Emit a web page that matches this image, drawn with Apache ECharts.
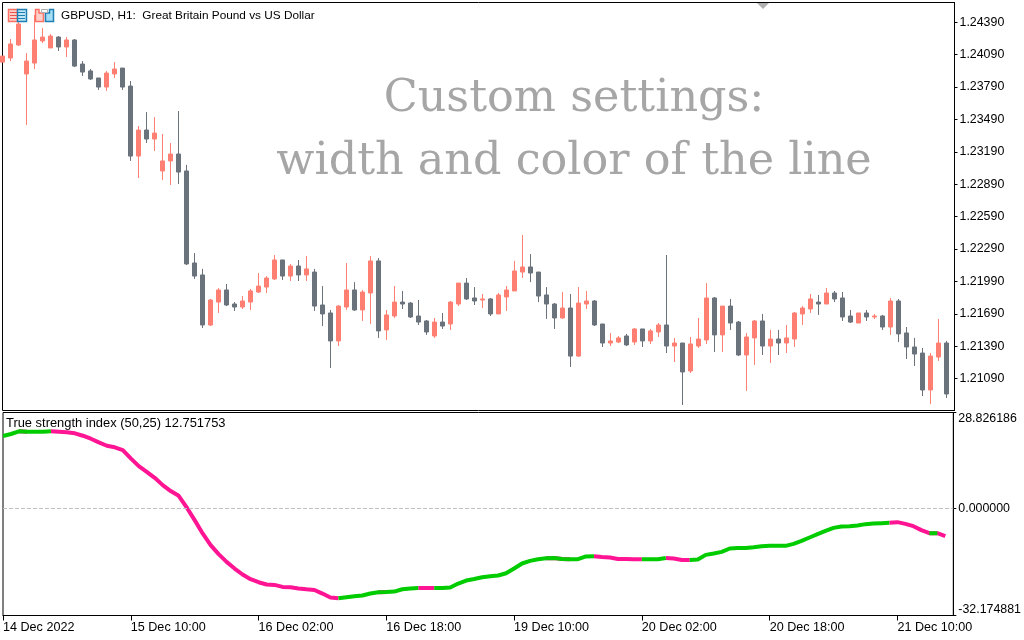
<!DOCTYPE html>
<html>
<head>
<meta charset="utf-8">
<title>GBPUSD H1</title>
<style>
  html, body { margin: 0; padding: 0; background: #fff; }
  #chart { width: 1024px; height: 640px; }
</style>
<script src="https://cdn.jsdelivr.net/npm/echarts@6/dist/echarts.min.js"></script>
</head>
<body>
<div id="chart"></div>
<script>
// GBPUSD H1 prices, one value per candle
var opens = [1.24021,1.24059,1.24180,1.23911,1.24012,1.24217,1.24152,1.24253,1.24161,1.24226,
  1.24003,1.23939,1.23874,1.23790,1.23911,1.23966,1.23799,1.23151,1.23392,1.23309,
  1.23013,1.23106,1.23170,1.23013,1.22161,1.22050,1.21587,1.21799,1.21911,1.21781,
  1.21753,1.21799,1.21892,1.21938,1.22013,1.22189,1.22040,1.22133,1.22050,1.22077,
  1.21772,1.21698,1.21439,1.21753,1.21911,1.21726,1.21883,1.22180,1.21541,1.21670,
  1.21799,1.21790,1.21670,1.21624,1.21485,1.21614,1.21596,1.21781,1.21975,1.21837,
  1.21818,1.21828,1.21689,1.21846,1.21902,1.22077,1.22124,1.22077,1.21865,1.21781,
  1.21652,1.21744,1.21299,1.21781,1.21809,1.21596,1.21420,1.21429,1.21485,1.21429,
  1.21550,1.21439,1.21522,1.21587,1.21392,1.21420,1.21161,1.21392,1.21448,1.21837,
  1.21495,1.21762,1.21614,1.21309,1.21467,1.21624,1.21392,1.21457,1.21420,1.21457,
  1.21689,1.21735,1.21799,1.21781,1.21883,1.21837,1.21670,1.21605,1.21698,1.21661,
  1.21670,1.21568,1.21809,1.21513,1.21383,1.21327,1.20985,1.21290,1.21420];
var closes = [1.24077,1.24189,1.24374,1.24031,1.24226,1.24253,1.24262,1.24161,1.24226,1.23984,
  1.23929,1.23865,1.23790,1.23920,1.23957,1.23790,1.23151,1.23392,1.23309,1.23364,
  1.23106,1.23170,1.23003,1.22152,1.22040,1.21587,1.21818,1.21911,1.21772,1.21753,
  1.21809,1.21902,1.21947,1.22022,1.22189,1.22040,1.22133,1.22050,1.22106,1.21762,
  1.21689,1.21439,1.21762,1.21911,1.21726,1.21892,1.22180,1.21532,1.21680,1.21799,
  1.21781,1.21661,1.21614,1.21522,1.21614,1.21577,1.21799,1.21975,1.21828,1.21809,
  1.21828,1.21689,1.21865,1.21911,1.22087,1.22124,1.22068,1.21855,1.21781,1.21652,
  1.21744,1.21299,1.21790,1.21809,1.21587,1.21420,1.21439,1.21467,1.21402,1.21550,
  1.21439,1.21532,1.21587,1.21392,1.21420,1.21152,1.21411,1.21457,1.21837,1.21495,
  1.21762,1.21605,1.21309,1.21476,1.21624,1.21392,1.21457,1.21420,1.21467,1.21698,
  1.21744,1.21828,1.21781,1.21883,1.21828,1.21661,1.21614,1.21698,1.21661,1.21670,
  1.21568,1.21809,1.21504,1.21383,1.21318,1.20985,1.21299,1.21420,1.20948];
var lows = [1.24021,1.24031,1.24170,1.23439,1.23957,1.24198,1.24152,1.24124,1.24068,1.23975,
  1.23892,1.23855,1.23763,1.23754,1.23874,1.23763,1.23106,1.22948,1.23272,1.23198,
  1.22929,1.22883,1.22892,1.22143,1.22013,1.21559,1.21577,1.21698,1.21762,1.21717,
  1.21735,1.21726,1.21883,1.21883,1.22003,1.22003,1.21994,1.21994,1.21994,1.21717,
  1.21577,1.21189,1.21392,1.21726,1.21717,1.21624,1.21596,1.21467,1.21448,1.21652,
  1.21735,1.21652,1.21587,1.21495,1.21467,1.21550,1.21541,1.21762,1.21818,1.21772,
  1.21744,1.21670,1.21689,1.21717,1.21902,1.22022,1.21984,1.21799,1.21643,1.21550,
  1.21643,1.21198,1.21290,1.21735,1.21577,1.21383,1.21392,1.21420,1.21392,1.21402,
  1.21383,1.21411,1.21476,1.21327,1.21244,1.20846,1.21142,1.21374,1.21411,1.21336,
  1.21336,1.21541,1.21299,1.20976,1.21217,1.21309,1.21235,1.21309,1.21327,1.21383,
  1.21587,1.21698,1.21680,1.21781,1.21799,1.21624,1.21605,1.21605,1.21624,1.21643,
  1.21541,1.21495,1.21429,1.21272,1.21207,1.20929,1.20855,1.21254,1.20911];
var highs = [1.24077,1.24235,1.24411,1.24105,1.24457,1.24337,1.24281,1.24262,1.24253,1.24235,
  1.24031,1.23957,1.23874,1.23939,1.24021,1.23966,1.23846,1.23429,1.23558,1.23512,
  1.23355,1.23272,1.23568,1.23069,1.22253,1.22106,1.21828,1.21929,1.21966,1.21799,
  1.21855,1.21920,1.22068,1.22040,1.22235,1.22189,1.22152,1.22189,1.22225,1.22106,
  1.21947,1.21726,1.21772,1.22161,1.21984,1.21911,1.22225,1.22207,1.21726,1.21947,
  1.21902,1.21799,1.21818,1.21633,1.21652,1.21698,1.21809,1.21975,1.22022,1.21938,
  1.21874,1.21837,1.21883,1.21947,1.22180,1.22420,1.22244,1.22077,1.21938,1.21790,
  1.21892,1.21874,1.21938,1.21902,1.21818,1.21596,1.21513,1.21485,1.21504,1.21559,
  1.21550,1.21550,1.21605,1.22235,1.21467,1.21420,1.21476,1.21652,1.21975,1.21846,
  1.21762,1.21828,1.21624,1.21513,1.21633,1.21689,1.21541,1.21541,1.21587,1.21707,
  1.21762,1.21874,1.21865,1.21929,1.21902,1.21892,1.21726,1.21698,1.21726,1.21689,
  1.21680,1.21837,1.21828,1.21568,1.21467,1.21374,1.21327,1.21643,1.21439];

// True strength index (50,25), one value per candle
var tsiValues = [21.76,22.36,23.17,23.05,23.05,23.05,23.17,23.05,22.87,22.57,
  21.85,20.95,19.86,18.84,18.36,17.54,15.05,12.73,11.01,9.21,
  7.01,5.21,3.79,0.30,-3.52,-7.52,-11.04,-13.75,-16.07,-18.06,
  -19.86,-21.28,-22.18,-22.87,-22.99,-23.59,-23.68,-24.07,-24.29,-24.50,
  -25.58,-26.78,-26.99,-26.69,-26.39,-26.18,-25.58,-25.19,-25.10,-24.98,
  -24.29,-24.07,-23.89,-23.89,-23.89,-23.89,-23.77,-22.57,-21.67,-21.19,
  -20.67,-20.37,-20.16,-19.47,-18.06,-16.55,-15.77,-15.26,-14.96,-14.87,
  -15.17,-15.26,-15.26,-14.44,-14.35,-14.57,-14.75,-15.17,-15.20,-15.26,
  -15.26,-15.26,-15.26,-14.90,-15.05,-15.47,-15.47,-15.35,-13.96,-13.54,
  -13.06,-12.04,-11.86,-11.86,-11.65,-11.35,-11.25,-11.25,-11.25,-10.65,
  -9.75,-8.73,-7.73,-6.74,-5.84,-5.42,-5.33,-5.12,-4.72,-4.51,
  -4.42,-4.33,-4.12,-4.63,-5.33,-6.53,-7.43,-7.43,-8.34];
// stretches of the line drawn pink (first and last point of each); the rest is green
var pinkStretches = [[2,3],[6,42],[47,48],[52,54],[68,69],[70,71],[74,80],[83,86],[92,93],[111,116],[117,118]];

// axis labels
var priceTicks = [1.21090,1.21390,1.21690,1.21990,1.22290,1.22590,1.22890,1.23190,1.23490,1.23790,1.24090,1.24390];
var tsiTicks = [-32.174881,0,28.826186];
var dateTicks = [0,16,32,48,64,80,96,112];
var dateLabels = ['14 Dec 2022','15 Dec 10:00','16 Dec 02:00','16 Dec 18:00','19 Dec 10:00','20 Dec 02:00','20 Dec 18:00','21 Dec 10:00'];

var labelFont = 'Liberation Sans';

function isPink(i) {
  for (var k = 0; k < pinkStretches.length; k++) {
    if (i > pinkStretches[k][0] && i <= pinkStretches[k][1]) return true;
  }
  return false;
}

var candles = opens.map(function (o, i) {
  return [i, o, closes[i], lows[i], highs[i]];
});

// every segment goes to one of the two line series, a gap in the other
var pinkLine = [], greenLine = [];
tsiValues.forEach(function (v, i) {
  var touchesPink = isPink(i) || isPink(i + 1);
  var touchesGreen = (i > 0 && !isPink(i)) || (i + 1 < tsiValues.length && !isPink(i + 1));
  pinkLine.push([i, touchesPink ? v : null]);
  greenLine.push([i, touchesGreen ? v : null]);
});

var myChart = echarts.init(document.getElementById('chart'));

var option = {
  animation: false,
  backgroundColor: '#fff',
  textStyle: { fontFamily: labelFont },
  title: [
    { text: 'GBPUSD, H1:  Great Britain Pound vs US Dollar', left: 61, top: 10, padding: 0,
      textStyle: { fontSize: 11.8, fontWeight: 'normal', color: '#000', fontFamily: labelFont } },
    { text: 'True strength index (50,25) 12.751753', left: 6, top: 417, padding: 0,
      textStyle: { fontSize: 12.9, fontWeight: 'normal', color: '#000', fontFamily: labelFont } }
  ],
  grid: [
    { left: 2.5, top: 2.5, width: 952, height: 408, show: true, borderColor: '#000', borderWidth: 1, backgroundColor: '#fff' },
    { left: 2.5, top: 412.5, width: 952, height: 203, show: true, borderColor: '#000', borderWidth: 1, backgroundColor: '#fff' }
  ],
  xAxis: [
    { type: 'value', gridIndex: 0, min: 0, max: 119, show: false },
    { type: 'value', gridIndex: 1, min: 0, max: 119,
      splitLine: { show: false },
      axisLine: { onZero: false, lineStyle: { color: '#000' } },
      axisTick: { length: 5, customValues: dateTicks, lineStyle: { color: '#000' } },
      axisLabel: {
        customValues: dateTicks, align: 'left', margin: 6, fontSize: 12.6, color: '#000', fontFamily: labelFont,
        formatter: function (v) { return dateLabels[dateTicks.indexOf(v)]; }
      } }
  ],
  yAxis: [
    { type: 'value', gridIndex: 0, position: 'right', min: 1.20795, max: 1.24573,
      splitLine: { show: false },
      axisLine: { show: true, onZero: false, lineStyle: { color: '#000' } },
      axisTick: { show: true, length: 3, customValues: priceTicks, lineStyle: { color: '#000' } },
      axisLabel: {
        customValues: priceTicks, margin: 5, fontSize: 12.4, color: '#000', fontFamily: labelFont,
        formatter: function (v) { return v.toFixed(5); }
      } },
    { type: 'value', gridIndex: 1, position: 'right', min: -32.174881, max: 28.826186,
      splitLine: { show: false },
      axisLine: { show: true, onZero: false, lineStyle: { color: '#000' } },
      axisTick: { show: true, length: 3, customValues: tsiTicks, lineStyle: { color: '#000' } },
      axisLabel: {
        customValues: tsiTicks, margin: 5, fontSize: 12.4, color: '#000', fontFamily: labelFont,
        verticalAlignMinLabel: 'bottom', verticalAlignMaxLabel: 'top',
        formatter: function (v) { return v.toFixed(6); }
      } }
  ],
  series: [
    { name: 'GBPUSD', type: 'candlestick', xAxisIndex: 0, yAxisIndex: 0,
      barWidth: 4,
      data: candles,
      itemStyle: { color: '#ff8073', color0: '#6a727c', borderColor: '#ff8073', borderColor0: '#6a727c', borderWidth: 1 } },
    { name: 'TSI down', type: 'line', xAxisIndex: 1, yAxisIndex: 1,
      data: pinkLine, showSymbol: false, connectNulls: false, z: 3,
      lineStyle: { color: '#ff1493', width: 4, cap: 'butt' },
      markLine: {
        silent: true, symbol: 'none', label: { show: false },
        lineStyle: { color: '#c0c0c0', type: 'dashed', width: 1 },
        data: [{ yAxis: 0 }]
      } },
    { name: 'TSI up', type: 'line', xAxisIndex: 1, yAxisIndex: 1,
      data: greenLine, showSymbol: false, connectNulls: false, z: 3,
      lineStyle: { color: '#00cc00', width: 4, cap: 'butt' } }
  ],
  graphic: [
    // watermark note
    { type: 'text', z: 1, style: { text: 'Custom settings:', x: 574, y: 99, align: 'center', verticalAlign: 'middle',
        font: '44.5px "DejaVu Serif"', fill: '#a6a6a6' } },
    { type: 'text', z: 1, style: { text: 'width and color of the line', x: 574, y: 162, align: 'center', verticalAlign: 'middle',
        font: '44.5px "DejaVu Serif"', fill: '#a6a6a6' } },
    // terminal's shift marker on the top edge
    { type: 'polygon', z: 5, shape: { points: [[757, 3], [769, 3], [763, 9]] }, style: { fill: '#b0b0b0' } },
    // window icons in the corner
    { type: 'rect', z: 5, shape: { x: 8.5, y: 9.5, width: 9, height: 12 }, style: { fill: '#ffd0ca', stroke: '#ff6f63', lineWidth: 1.5 } },
    { type: 'rect', z: 5, shape: { x: 17.5, y: 9.5, width: 9, height: 12 }, style: { fill: '#bfe6f7', stroke: '#1f7fb5', lineWidth: 1.5 } },
    { type: 'rect', z: 6, shape: { x: 10, y: 12, width: 7, height: 1 }, style: { fill: '#f0504a' } },
    { type: 'rect', z: 6, shape: { x: 10, y: 15, width: 7, height: 1 }, style: { fill: '#f0504a' } },
    { type: 'rect', z: 6, shape: { x: 10, y: 18, width: 7, height: 1 }, style: { fill: '#f0504a' } },
    { type: 'rect', z: 6, shape: { x: 18, y: 12, width: 7, height: 1 }, style: { fill: '#1f7fb5' } },
    { type: 'rect', z: 6, shape: { x: 18, y: 15, width: 7, height: 1 }, style: { fill: '#1f7fb5' } },
    { type: 'rect', z: 6, shape: { x: 18, y: 18, width: 7, height: 1 }, style: { fill: '#1f7fb5' } },
    { type: 'polygon', z: 5, shape: { points: [[35.5, 21.5], [35.5, 9.5], [39, 9.5], [39, 13], [43.5, 13], [43.5, 21.5]] }, style: { fill: '#ffd0ca', stroke: '#ff6f63', lineWidth: 1.5 } },
    { type: 'polygon', z: 5, shape: { points: [[45.5, 21.5], [45.5, 13], [49.5, 13], [49.5, 9.5], [53.5, 9.5], [53.5, 21.5]] }, style: { fill: '#a6def5', stroke: '#1f7fb5', lineWidth: 1.5 } },
    { type: 'rect', z: 5, shape: { x: 41.5, y: 9.5, width: 6, height: 3 }, style: { fill: '#fff', stroke: '#b0b0b0', lineWidth: 1 } }
  ]
};

myChart.setOption(option);
</script>
</body>
</html>
